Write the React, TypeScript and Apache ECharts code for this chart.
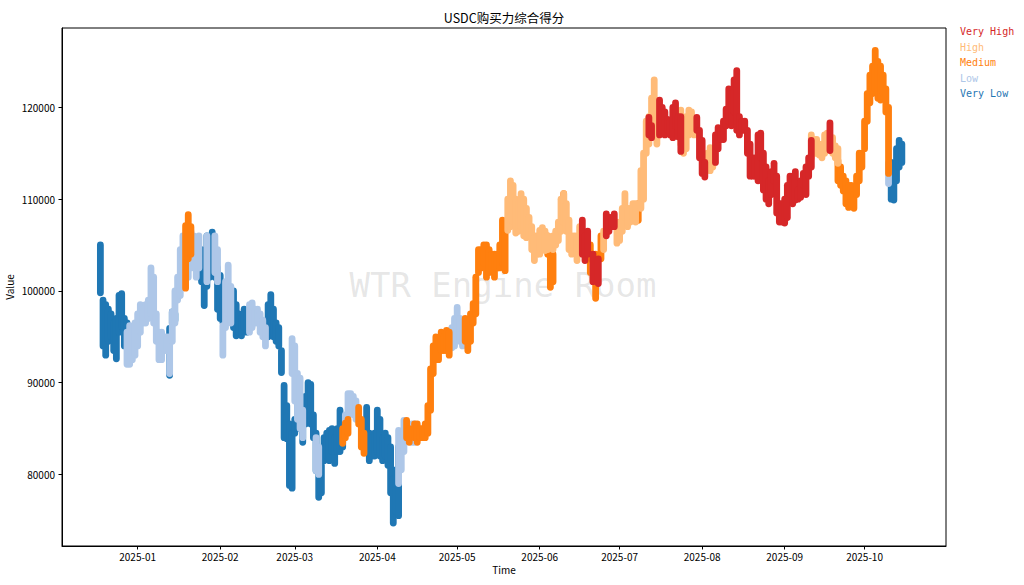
import React, { useEffect, useRef } from "react";
import * as echarts from "echarts";

type Rec = [string, number, number];

const chartTitle = "USDC购买力综合得分";
const xName = "Time";
const yName = "Value";
const watermark = "WTR Engine Room";
const categories = ["Very High", "High", "Medium", "Low", "Very Low"];
const colors = ["#d62728", "#ffbb78", "#ff7f0e", "#aec7e8", "#1f77b4"];
const monthTicks = [
  "2025-01-01", "2025-02-01", "2025-03-01", "2025-04-01", "2025-05-01",
  "2025-06-01", "2025-07-01", "2025-08-01", "2025-09-01", "2025-10-01",
];
const yTicks = [80000, 90000, 100000, 110000, 120000];
const xRange = ["2024-12-03", "2025-10-31"];
const yRange = [72200, 128650];

// [date, low, high] of each day's spread of points
const veryLow: Rec[] = [
  ["2024-12-18", 99800, 105000], ["2024-12-19", 94000, 99000], ["2024-12-20", 93000, 98500],
  ["2024-12-21", 94500, 98000], ["2024-12-22", 95000, 97500], ["2024-12-23", 93500, 96500],
  ["2024-12-24", 92600, 97000], ["2024-12-25", 95500, 99500], ["2024-12-26", 96000, 99700],
  ["2024-12-27", 94000, 97000], ["2024-12-28", 94000, 96500], ["2024-12-29", 93500, 95500],
  ["2024-12-30", 93000, 94500],
  ["2025-01-13", 90800, 95900], ["2025-01-14", 96500, 97700], ["2025-01-15", 96800, 97500],
  ["2025-01-25", 101000, 104500], ["2025-01-26", 98400, 103500], ["2025-01-27", 100500, 106000],
  ["2025-01-28", 101500, 105000], ["2025-01-29", 102000, 106400], ["2025-01-30", 101500, 104000],
  ["2025-01-31", 98000, 102500], ["2025-02-01", 97000, 101700], ["2025-02-02", 96600, 99000],
  ["2025-02-03", 96800, 98500], ["2025-02-06", 96000, 100000], ["2025-02-07", 95100, 98500],
  ["2025-02-08", 95500, 97500], ["2025-02-09", 95100, 97000], ["2025-02-10", 96000, 98000],
  ["2025-02-11", 95500, 97800], ["2025-02-19", 95000, 98500], ["2025-02-20", 95500, 99600],
  ["2025-02-21", 95000, 98000], ["2025-02-22", 94500, 96500], ["2025-02-23", 94000, 96000],
  ["2025-02-24", 91100, 93500], ["2025-02-25", 84000, 89700], ["2025-02-26", 83900, 87500],
  ["2025-02-27", 78800, 85500], ["2025-02-28", 78500, 84500], ["2025-03-01", 84500, 86000],
  ["2025-03-02", 85000, 90200], ["2025-03-03", 86000, 87800], ["2025-03-04", 83500, 87000],
  ["2025-03-05", 85500, 88500], ["2025-03-06", 86500, 90000], ["2025-03-07", 85500, 89800],
  ["2025-03-08", 84000, 86500], ["2025-03-09", 80400, 84500], ["2025-03-10", 77500, 82000],
  ["2025-03-11", 78000, 81000], ["2025-03-12", 81500, 84000], ["2025-03-13", 82000, 84500],
  ["2025-03-14", 81500, 84800], ["2025-03-15", 82500, 85000], ["2025-03-16", 81200, 84000],
  ["2025-03-17", 82500, 85000], ["2025-03-18", 82500, 87000], ["2025-03-19", 83000, 85000],
  ["2025-03-28", 83000, 87300], ["2025-03-29", 81500, 84500], ["2025-03-30", 82000, 84000],
  ["2025-03-31", 82000, 84500], ["2025-04-01", 82500, 87000], ["2025-04-02", 82000, 86000],
  ["2025-04-03", 81500, 84000], ["2025-04-04", 82000, 84500], ["2025-04-05", 81000, 84000],
  ["2025-04-06", 78000, 83000], ["2025-04-07", 74700, 79500], ["2025-04-08", 76000, 80500],
  ["2025-04-09", 75500, 83000],
  ["2025-10-11", 110000, 114000], ["2025-10-12", 109900, 113500], ["2025-10-13", 112000, 115500],
  ["2025-10-14", 113500, 116400], ["2025-10-15", 114000, 116000],
];

const low: Rec[] = [
  ["2024-12-28", 92000, 95500], ["2024-12-29", 92000, 96200], ["2024-12-30", 92500, 95500],
  ["2024-12-31", 93000, 96500], ["2025-01-01", 94000, 97500], ["2025-01-02", 95500, 98500],
  ["2025-01-03", 96500, 98000], ["2025-01-04", 96500, 98500], ["2025-01-05", 97000, 99000],
  ["2025-01-06", 97500, 102500], ["2025-01-07", 96500, 101500], ["2025-01-08", 94500, 97500],
  ["2025-01-09", 92500, 95500], ["2025-01-10", 92500, 95500], ["2025-01-11", 93500, 95000],
  ["2025-01-12", 93500, 95000], ["2025-01-13", 91000, 95000], ["2025-01-14", 94500, 97700],
  ["2025-01-15", 96500, 100000], ["2025-01-16", 99000, 101500], ["2025-01-17", 99500, 104500],
  ["2025-01-18", 103500, 106000], ["2025-01-19", 102000, 105000], ["2025-01-20", 101500, 107000],
  ["2025-01-21", 102500, 106500], ["2025-01-22", 103000, 106000], ["2025-01-23", 101500, 105500],
  ["2025-01-24", 102500, 106000], ["2025-01-27", 101000, 106000], ["2025-01-30", 102000, 106000],
  ["2025-01-31", 101000, 104500], ["2025-02-02", 93000, 96200], ["2025-02-03", 96000, 101000],
  ["2025-02-04", 97500, 102800], ["2025-02-05", 96500, 100500], ["2025-02-12", 95500, 98500],
  ["2025-02-13", 96000, 98700], ["2025-02-14", 96500, 98000], ["2025-02-15", 96500, 98000],
  ["2025-02-16", 95500, 97500], ["2025-02-17", 95000, 96800], ["2025-02-18", 94000, 96000],
  ["2025-02-28", 91000, 94800], ["2025-03-01", 88000, 94000], ["2025-03-02", 86000, 91000],
  ["2025-03-03", 85000, 90500], ["2025-03-04", 84000, 87000], ["2025-03-09", 80400, 84000],
  ["2025-03-10", 80000, 83000], ["2025-03-20", 84500, 86500], ["2025-03-21", 86500, 88800],
  ["2025-03-22", 87000, 88800], ["2025-03-23", 86500, 88500], ["2025-03-24", 86000, 88000],
  ["2025-04-09", 79000, 84800], ["2025-04-10", 80500, 84000], ["2025-04-11", 82500, 85900],
  ["2025-04-14", 83500, 85500], ["2025-04-15", 83500, 85500], ["2025-04-29", 93800, 96000],
  ["2025-04-30", 94000, 97000], ["2025-05-01", 95000, 98200], ["2025-05-02", 94500, 97000],
  ["2025-05-03", 94000, 96000], ["2025-10-10", 111700, 113900],
];

const medium: Rec[] = [
  ["2025-01-19", 100300, 107100], ["2025-01-20", 103500, 108300], ["2025-01-21", 104000, 107000],
  ["2025-03-19", 83400, 85000], ["2025-03-20", 84000, 85600], ["2025-03-21", 84500, 86000],
  ["2025-03-25", 85500, 87300], ["2025-03-26", 83000, 86000], ["2025-03-27", 82300, 84500],
  ["2025-04-12", 84000, 85900], ["2025-04-13", 83500, 85000], ["2025-04-15", 84000, 85500],
  ["2025-04-16", 83500, 85500], ["2025-04-17", 84000, 85000], ["2025-04-18", 84000, 85000],
  ["2025-04-19", 84000, 85500], ["2025-04-20", 84500, 87500], ["2025-04-21", 87000, 91500],
  ["2025-04-22", 91000, 94000], ["2025-04-23", 92500, 95000], ["2025-04-24", 92500, 94500],
  ["2025-04-25", 93500, 95500], ["2025-04-26", 93500, 95000], ["2025-04-27", 93500, 95700],
  ["2025-04-28", 93000, 95500], ["2025-05-04", 94500, 97000], ["2025-05-05", 93500, 95500],
  ["2025-05-06", 94500, 97500], ["2025-05-07", 96500, 98600], ["2025-05-08", 97500, 101500],
  ["2025-05-09", 102000, 104500], ["2025-05-10", 102500, 104500], ["2025-05-11", 103000, 105000],
  ["2025-05-12", 101500, 105000], ["2025-05-13", 102000, 104500], ["2025-05-14", 102500, 104000],
  ["2025-05-15", 101500, 104000], ["2025-05-16", 102500, 104000], ["2025-05-17", 102500, 105000],
  ["2025-05-18", 103000, 107700], ["2025-05-19", 102200, 106500], ["2025-06-04", 104000, 106000],
  ["2025-06-05", 100400, 105500], ["2025-06-06", 101000, 104000], ["2025-06-10", 108000, 110600],
  ["2025-06-20", 102000, 105000], ["2025-06-22", 99200, 104000], ["2025-06-24", 103500, 106000],
  ["2025-07-08", 107700, 109500], ["2025-09-21", 112000, 114200], ["2025-09-22", 111500, 113500],
  ["2025-09-23", 110900, 112500], ["2025-09-24", 109500, 112000], ["2025-09-25", 109100, 111500],
  ["2025-09-26", 109500, 111500], ["2025-09-27", 109000, 110500], ["2025-09-28", 110500, 112500],
  ["2025-09-29", 112000, 115000], ["2025-09-30", 113500, 115000], ["2025-10-01", 115500, 118500],
  ["2025-10-02", 118500, 121500], ["2025-10-03", 120500, 123500], ["2025-10-04", 121500, 124500],
  ["2025-10-05", 122000, 126200], ["2025-10-06", 121000, 125000], ["2025-10-07", 120800, 124500],
  ["2025-10-08", 121500, 123500], ["2025-10-09", 119500, 122000], ["2025-10-10", 112800, 120000],
];

const high: Rec[] = [
  ["2025-05-20", 106600, 110000], ["2025-05-21", 107000, 112000], ["2025-05-22", 107500, 111500],
  ["2025-05-23", 106300, 110000], ["2025-05-24", 106500, 109500], ["2025-05-25", 107000, 110600],
  ["2025-05-26", 106000, 110000], ["2025-05-27", 105800, 109000], ["2025-05-28", 106000, 108000],
  ["2025-05-29", 104500, 107000], ["2025-05-30", 103300, 106000], ["2025-05-31", 104000, 106000],
  ["2025-06-01", 104000, 106600], ["2025-06-02", 104500, 106900], ["2025-06-03", 104400, 106500],
  ["2025-06-04", 104500, 106000], ["2025-06-06", 104500, 106000], ["2025-06-07", 105000, 106500],
  ["2025-06-08", 105500, 107500], ["2025-06-09", 106500, 110000], ["2025-06-10", 107500, 110600],
  ["2025-06-11", 106500, 109500], ["2025-06-12", 104500, 107700], ["2025-06-13", 104000, 106000],
  ["2025-06-14", 104500, 106000], ["2025-06-15", 103300, 106000], ["2025-06-16", 104500, 107000],
  ["2025-06-21", 101000, 103000], ["2025-06-25", 104500, 106500], ["2025-06-30", 105200, 107500],
  ["2025-07-01", 105500, 107500], ["2025-07-02", 106500, 109000], ["2025-07-03", 108000, 110600],
  ["2025-07-04", 107000, 109000], ["2025-07-05", 107500, 109000], ["2025-07-06", 108000, 109500],
  ["2025-07-07", 107500, 109500], ["2025-07-09", 109000, 113100], ["2025-07-10", 110000, 115000],
  ["2025-07-11", 115000, 118500], ["2025-07-12", 116000, 119000], ["2025-07-13", 117000, 121000],
  ["2025-07-14", 119000, 123000], ["2025-07-15", 116000, 119000], ["2025-07-24", 116000, 119700],
  ["2025-07-25", 115000, 118000], ["2025-07-26", 115500, 119000], ["2025-07-27", 117000, 119700],
  ["2025-07-28", 117500, 119500], ["2025-07-29", 117000, 118500], ["2025-08-03", 113500, 115000],
  ["2025-08-04", 113100, 115600], ["2025-08-05", 113500, 115000], ["2025-09-11", 114500, 117000],
  ["2025-09-12", 115000, 116500], ["2025-09-13", 115000, 116500], ["2025-09-14", 114800, 116000],
  ["2025-09-15", 114500, 116000], ["2025-09-16", 115000, 117000], ["2025-09-17", 115500, 117200],
  ["2025-09-19", 115000, 116700], ["2025-09-20", 114500, 115800], ["2025-09-21", 113900, 115500],
];

const veryHigh: Rec[] = [
  ["2025-06-17", 104000, 107700], ["2025-06-18", 103300, 106000], ["2025-06-19", 104000, 106500],
  ["2025-06-21", 101000, 104000], ["2025-06-23", 100800, 103500], ["2025-06-26", 106000, 108400],
  ["2025-06-27", 106500, 108000], ["2025-06-28", 107000, 108000], ["2025-06-29", 107000, 108400],
  ["2025-07-12", 117000, 118900], ["2025-07-13", 116700, 118000], ["2025-07-16", 117000, 120800],
  ["2025-07-17", 117500, 120000], ["2025-07-18", 117000, 119500], ["2025-07-19", 117500, 118700],
  ["2025-07-20", 117000, 118500], ["2025-07-21", 116700, 120000], ["2025-07-22", 118000, 120500],
  ["2025-07-23", 116800, 119000], ["2025-07-24", 115200, 119000], ["2025-07-30", 117500, 118900],
  ["2025-07-31", 114500, 117500], ["2025-08-01", 112800, 116400], ["2025-08-02", 112400, 114000],
  ["2025-08-06", 114000, 117000], ["2025-08-07", 115500, 117800], ["2025-08-08", 116500, 117500],
  ["2025-08-09", 116500, 118500], ["2025-08-10", 118000, 119800], ["2025-08-11", 118500, 122000],
  ["2025-08-12", 118000, 121500], ["2025-08-13", 119500, 123000], ["2025-08-14", 117500, 124000],
  ["2025-08-15", 117000, 119000], ["2025-08-16", 117500, 118500], ["2025-08-17", 117500, 118500],
  ["2025-08-18", 115000, 117500], ["2025-08-19", 112500, 116000], ["2025-08-20", 112500, 114500],
  ["2025-08-21", 112500, 114500], ["2025-08-22", 112000, 117000], ["2025-08-23", 114500, 117200],
  ["2025-08-24", 111000, 115000], ["2025-08-25", 110000, 113500], ["2025-08-26", 109500, 112000],
  ["2025-08-27", 110500, 113000], ["2025-08-28", 112000, 113900], ["2025-08-29", 108500, 112500],
  ["2025-08-30", 107500, 109500], ["2025-08-31", 107500, 109500], ["2025-09-01", 107400, 110000],
  ["2025-09-02", 108000, 111500], ["2025-09-03", 110500, 112500], ["2025-09-04", 109500, 112500],
  ["2025-09-05", 109900, 113000], ["2025-09-06", 110000, 111000], ["2025-09-07", 110200, 112000],
  ["2025-09-08", 111500, 112800], ["2025-09-09", 110500, 113500], ["2025-09-10", 112500, 114500],
  ["2025-09-11", 113500, 116400], ["2025-09-18", 115300, 118300],
];

const seriesData: Rec[][] = [veryHigh, high, medium, low, veryLow];
// drawing order (earlier below)
const drawOrder = [4, 3, 2, 1, 0];

function toTime(s: string): number {
  const [y, m, d] = s.split("-").map(Number);
  return new Date(y, m - 1, d).getTime();
}

function fmtMonth(v: number): string {
  const d = new Date(v);
  const m = d.getMonth() + 1;
  return d.getFullYear() + "-" + (m < 10 ? "0" + m : "" + m);
}

const CJK = "'Noto Sans CJK SC', 'DejaVu Sans', sans-serif";
const MONO = "'DejaVu Sans Mono', monospace";

export default function App() {
  const ref = useRef<HTMLDivElement>(null);
  useEffect(() => {
    document.body.style.margin = "0";
    if (!ref.current) return;
    const chart = echarts.init(ref.current, undefined, { renderer: "svg" });
    const R = 3.4;
    const series = drawOrder.map((ci) => ({
      name: categories[ci],
      type: "custom",
      z: 3,
      color: colors[ci],
      data: seriesData[ci].map((r) => [toTime(r[0]), r[1], r[2]]),
      encode: { x: 0, y: [1, 2] },
      renderItem: (params: any, api: any) => {
        const t = api.value(0);
        const p1 = api.coord([t, api.value(2)]);
        const p2 = api.coord([t, api.value(1)]);
        return {
          type: "rect",
          shape: { x: p1[0] - R, y: p1[1] - R, width: 2 * R, height: p2[1] - p1[1] + 2 * R, r: R },
          style: { fill: colors[ci] },
        };
      },
    }));
    const axisCommon = {
      axisLine: { show: true, lineStyle: { color: "#000", width: 1 } },
      splitLine: { show: false },
    };
    const xTickVals = monthTicks.map(toTime);
    chart.setOption({
      animation: false,
      backgroundColor: "#fff",
      title: {
        text: chartTitle,
        left: 499,
        textAlign: "center",
        top: 6,
        textStyle: { fontFamily: CJK, fontSize: 12.5, fontWeight: "normal", color: "#000" },
      },
      legend: {
        orient: "vertical",
        left: 950,
        top: 21,
        icon: "rect",
        itemWidth: 0,
        itemHeight: 0,
        itemGap: 4.6,
        selectedMode: false,
        data: categories.map((c, i) => ({ name: c, textStyle: { color: colors[i] } })),
        textStyle: { fontFamily: MONO, fontSize: 10, lineHeight: 11 },
      },
      grid: {
        left: 62,
        right: 78,
        top: 28,
        bottom: 39,
        outerBoundsMode: "none",
        containLabel: false,
        show: true,
        borderColor: "#000",
        borderWidth: 1,
        backgroundColor: "transparent",
      },
      graphic: {
        elements: [
          {
            type: "text",
            z: 1,
            x: 503,
            y: 285,
            style: {
              text: watermark,
              fontFamily: MONO,
              fontSize: 34,
              fill: "rgba(128,128,128,0.2)",
              align: "center",
              verticalAlign: "middle",
            },
          },
        ],
      },
      xAxis: {
        type: "value",
        min: toTime(xRange[0]) + 14 * 3600 * 1000,
        max: toTime(xRange[1]) + 14 * 3600 * 1000,
        name: xName,
        nameLocation: "middle",
        nameGap: 18,
        nameMoveOverlap: false,
        nameTextStyle: { fontFamily: CJK, fontSize: 10, color: "#000" },
        ...axisCommon,
        axisTick: { show: true, length: 3.5, lineStyle: { color: "#000" }, customValues: xTickVals },
        axisLabel: {
          customValues: xTickVals,
          formatter: (v: number) => fmtMonth(v),
          fontFamily: CJK,
          fontSize: 10,
          color: "#000",
          margin: 5,
        },
      },
      yAxis: {
        type: "value",
        min: yRange[0],
        max: yRange[1],
        name: yName,
        nameLocation: "middle",
        nameGap: 48,
        nameMoveOverlap: false,
        nameTextStyle: { fontFamily: CJK, fontSize: 10, color: "#000" },
        ...axisCommon,
        axisTick: { show: true, length: 3.5, lineStyle: { color: "#000" }, customValues: yTicks },
        axisLabel: {
          customValues: yTicks,
          formatter: (v: number) => String(v),
          fontFamily: CJK,
          fontSize: 10,
          color: "#000",
          margin: 7,
        },
      },
      series,
    });
    return () => chart.dispose();
  }, []);
  return <div ref={ref} style={{ width: 1024, height: 585 }} />;
}
